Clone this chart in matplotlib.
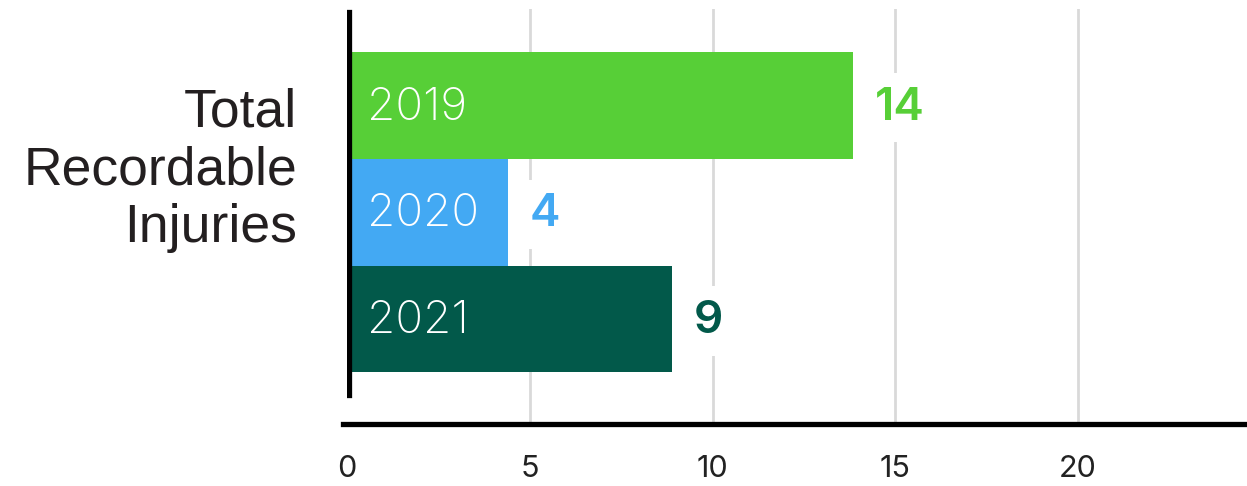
import matplotlib.pyplot as plt

# data
years = ["2019", "2020", "2021"]
bar_values = [13.85, 4.4, 8.9]
value_labels = ["14", "4", "9"]
colors = ["#57CF37", "#43A9F3", "#02594A"]
xticks = [0, 5, 10, 15, 20]

plt.rcParams["font.family"] = ["Inter", "DejaVu Sans"]

fig = plt.figure(figsize=(12.47, 4.86), dpi=100)
W, H = 1247, 486
top_px, bot_px, left_px = 9, 424, 347
ax = fig.add_axes([left_px / W, (H - bot_px) / H, 1 - left_px / W, (bot_px - top_px) / H])

ypos = list(range(len(years)))
ax.barh(ypos, bar_values, height=1.0, color=colors, zorder=2)

# y range so that bars sit where they do in the reference
unit = 106.7
ax.set_ylim((bot_px - 105.5) / unit, -(105.5 - top_px) / unit)
ax.set_xlim(0, (W - left_px) / 36.55)

for x in xticks[1:]:
    ax.axvline(x, color="#D9D9D9", lw=2, zorder=0)

for y, yr, v, lab, c in zip(ypos, years, bar_values, value_labels, colors):
    ax.text(0.55, y + 0.02, yr, color="white", fontsize=33, fontweight="light",
            va="center", ha="left", zorder=3)
    ax.text(v + 0.6, y + 0.02, lab, color=c, fontsize=33, fontweight="semibold",
            va="center", ha="left", zorder=3,
            bbox=dict(facecolor="white", edgecolor="none", pad=10))

for s in ax.spines.values():
    s.set_visible(False)

# thick left rule and bottom rule
ax.axvline(0.05, ymin=(bot_px - 395) / (bot_px - top_px), ymax=(bot_px - 12) / (bot_px - top_px),
           color="black", lw=3.8, zorder=4)
ax.plot([-0.005, 1], [0, 0], transform=ax.transAxes, color="black", lw=3.8,
        clip_on=False, zorder=4)

ax.set_yticks([])
ax.set_xticks(xticks)
ax.tick_params(axis="x", length=0, pad=22, labelsize=22, labelcolor="#222222")

fig.text(297 / W, 1 - 170 / H, "Total\nRecordable\nInjuries", ha="right", va="center",
         fontsize=38.5, linespacing=1.2, color="#231F20",
         family=["Liberation Sans", "DejaVu Sans"])

fig.savefig("out.png", dpi=100)
